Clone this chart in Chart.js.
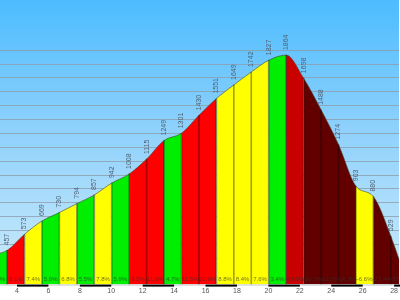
<!DOCTYPE html>
<html>
<head>
<meta charset="utf-8">
<script src="https://cdn.jsdelivr.net/npm/chart.js@4/dist/chart.umd.min.js"></script>
<style>
  body { margin: 0; background: #fff; }
  canvas { display: block; }
</style>
</head>
<body>
<canvas id="myChart" width="400" height="300"></canvas>
<script>
// distance (km) of each segment boundary
var kms = [2.26, 3.37, 4.48, 5.59, 6.70, 7.81, 8.92, 10.03, 11.14, 12.25, 13.36, 14.47, 15.58,
           16.69, 17.80, 18.91, 20.02, 21.13, 22.24, 23.35, 24.46, 25.57, 26.68, 27.79, 28.90];
// elevation (m) at each boundary
var elevations = [424, 457, 573, 669, 730, 794, 857, 942, 1008, 1115, 1249, 1301, 1430,
                  1551, 1649, 1742, 1827, 1864, 1698, 1470, 1220, 920, 845, 560, 194];
// elevation labels written over the profile
var elevLabels = ['', '457', '573', '669', '730', '794', '857', '942', '1008', '1115', '1249', '1301', '1430',
                  '1551', '1649', '1742', '1827', '1864', '1698', '1488', '1274', '903', '880', '529', ''];
// gradient (%) of each segment
var grades = [3.0, 9.1, 7.4, 5.6, 6.8, 5.5, 7.8, 5.9, 9.5, 11.9, 4.7, 11.5, 10.9,
              8.8, 8.4, 7.6, 3.4, -14.9, -20.7, -22.6, -26.9, -6.6, -27.4, -33.0];
var xTicks = [4, 6, 8, 10, 12, 14, 16, 18, 20, 22, 24, 26, 28];

function gradeColor(g) {
  var a = Math.abs(g);
  if (a < 6) return '#00ee00';
  if (a < 9) return '#ffff00';
  if (a < 12) return '#ff0000';
  if (a < 15) return '#c80000';
  return '#620000';
}

var profilePoints = kms.map(function (k, i) { return {x: k, y: elevations[i]}; });
var dividers = [];
for (var i = 1; i < kms.length - 1; i++) dividers.push({x: kms[i], y: elevations[i]});

var profilePlugin = {
  id: 'profile',
  beforeDraw: function (chart) {
    var c = chart.ctx, a = chart.chartArea;
    var g = c.createLinearGradient(0, a.top, 0, a.bottom);
    g.addColorStop(0, '#4cbcfe');
    g.addColorStop(0.45, '#8ed1fc');
    g.addColorStop(1, '#cdebfb');
    c.save();
    c.fillStyle = g;
    c.fillRect(a.left, a.top, a.right - a.left, a.bottom - a.top);
    c.restore();
  },
  afterDatasetsDraw: function (chart) {
    var c = chart.ctx, a = chart.chartArea;
    var xs = chart.scales.x, ys = chart.scales.y;
    c.save();
    c.beginPath();
    c.rect(a.left, a.top, a.right - a.left, a.bottom - a.top);
    c.clip();
    // elevation labels
    c.font = '7px "Liberation Sans", Arial, sans-serif';
    c.fillStyle = '#4f6172';
    c.textAlign = 'left';
    c.textBaseline = 'middle';
    for (var i = 0; i < kms.length; i++) {
      if (!elevLabels[i]) continue;
      c.save();
      c.translate(xs.getPixelForValue(kms[i]), ys.getPixelForValue(elevations[i]) - 5);
      c.rotate(-Math.PI / 2);
      c.fillText(elevLabels[i], 0, 0);
      c.restore();
    }
    // gradient labels
    c.font = '6px "Liberation Sans", Arial, sans-serif';
    c.textAlign = 'center';
    c.fillStyle = 'rgba(50,50,50,0.7)';
    for (var j = 0; j < grades.length; j++) {
      var cx = (xs.getPixelForValue(kms[j]) + xs.getPixelForValue(kms[j + 1])) / 2;
      c.fillText(grades[j].toFixed(1) + '%', cx, a.bottom - 5);
    }
    c.restore();
    // scale bar under the plot
    c.save();
    c.fillStyle = '#cccccc';
    c.fillRect(a.left, a.bottom, a.right - a.left, 1);
    c.fillStyle = '#000';
    for (var t = 0; t < xTicks.length; t += 2) {
      var x1 = xs.getPixelForValue(xTicks[t]);
      var x2 = xs.getPixelForValue(xTicks[t] + 2);
      c.fillRect(x1, a.bottom, x2 - x1, 2);
    }
    c.restore();
  }
};

var ctx = document.getElementById('myChart');
var myChart = new Chart(ctx, {
  type: 'line',
  data: {
    datasets: [
      {
        type: 'bar',
        data: dividers,
        barThickness: 1,
        backgroundColor: 'rgba(0,0,0,0.35)',
        borderWidth: 0,
        order: 0
      },
      {
        data: profilePoints,
        fill: 'start',
        borderColor: 'rgba(70,70,50,0.6)',
        borderWidth: 1,
        pointRadius: 0,
        cubicInterpolationMode: 'monotone',
        segment: {
          backgroundColor: function (s) { return gradeColor(grades[s.p0DataIndex]); }
        },
        order: 1
      }
    ]
  },
  options: {
    responsive: false,
    animation: false,
    events: [],
    layout: { padding: { left: 0, right: 0, top: 0, bottom: 3 } },
    plugins: { legend: { display: false }, tooltip: { enabled: false } },
    scales: {
      x: {
        type: 'linear',
        min: 2.92,
        max: 28.32,
        offset: false,
        grid: { display: false, drawTicks: false },
        border: { display: false },
        afterBuildTicks: function (axis) {
          axis.ticks = xTicks.map(function (v) { return {value: v}; });
        },
        ticks: {
          font: { size: 7, family: '"Liberation Sans", Arial, sans-serif' },
          color: '#555',
          padding: 2,
          maxRotation: 0,
          autoSkip: false
        }
      },
      y: {
        min: 211,
        max: 2261,
        grid: {
          drawTicks: false,
          lineWidth: 1,
          color: function (c) {
            var v = c.tick && c.tick.value;
            return (v >= 300 && v <= 1900 && v % 100 === 0) ? 'rgba(140,155,170,0.75)' : 'rgba(0,0,0,0)';
          }
        },
        border: { display: false },
        ticks: { display: false, stepSize: 100 }
      }
    }
  },
  plugins: [profilePlugin]
});
</script>
</body>
</html>
